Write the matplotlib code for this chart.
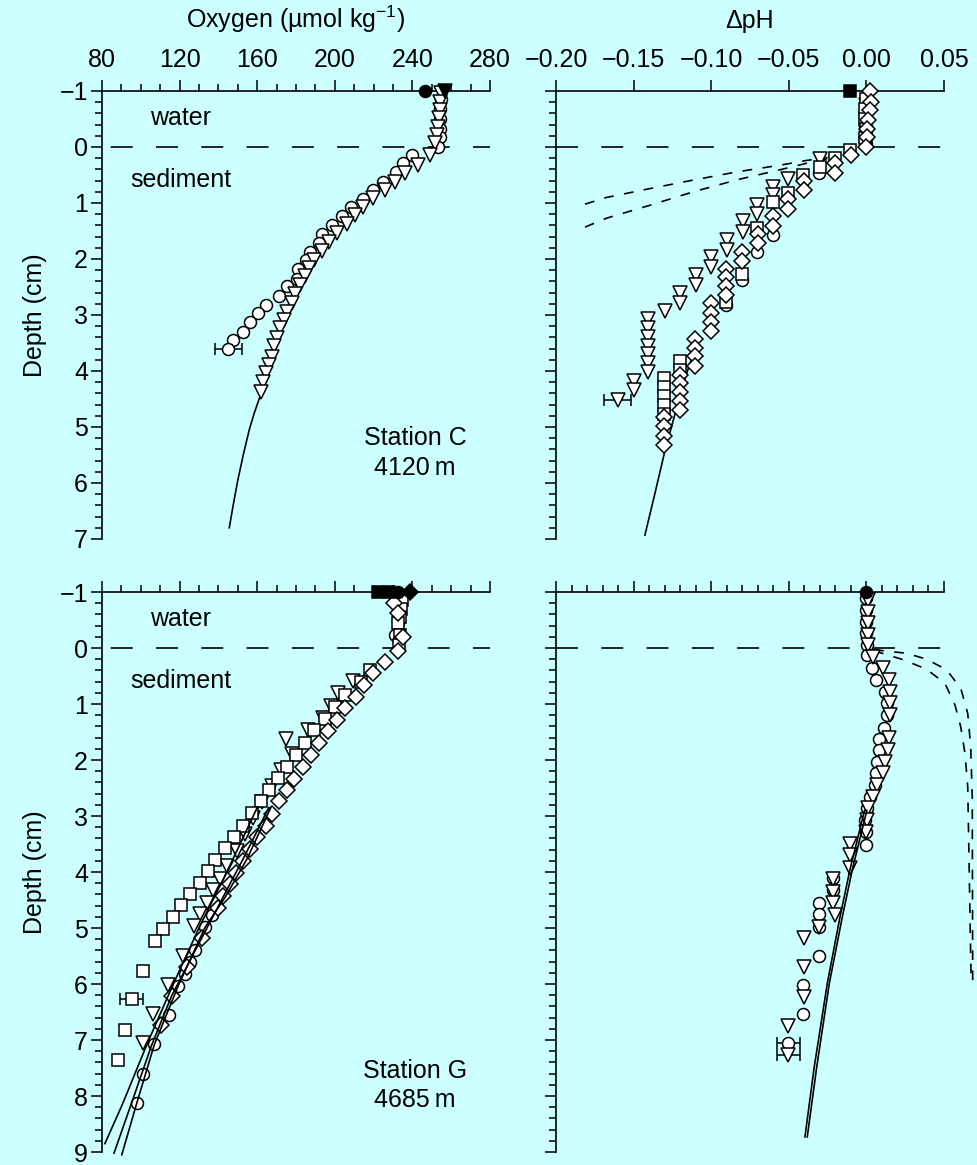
import numpy as np
import matplotlib
matplotlib.use("Agg")
matplotlib.rcParams.update({
    'font.family': ['Liberation Sans', 'DejaVu Sans'],
    'font.size': 18,
    'mathtext.default': 'regular',
    'lines.scale_dashes': False,
})
from matplotlib import pyplot as plt
from matplotlib.ticker import MultipleLocator, FuncFormatter

BG = '#ccffff'

# ---------------- Station C, oxygen ----------------
co_filled_circ_o2 = [246.5]
co_filled_tri_o2 = [256.8]
co_circ_o2 = [254.5, 254.4, 254.3, 254.0, 254.2, 253.4, 239.6, 235.3, 231.8, 224.6, 219.5,
              214.6, 208.6, 203.5, 198.3, 193.5, 192.0, 187.2, 185.2, 181.2, 180.3, 175.2,
              171.4, 164.5, 160.6, 156.3, 152.5, 147.7, 145.1]
co_circ_d = [-0.85, -0.68, -0.5, -0.33, -0.18, 0.0, 0.14, 0.29, 0.44, 0.62, 0.77, 0.93, 1.08,
             1.24, 1.40, 1.55, 1.71, 1.87, 2.02, 2.18, 2.35, 2.49, 2.66, 2.82, 2.97, 3.12,
             3.30, 3.45, 3.61]
co_circ_err = 6.9   # on deepest circle
co_tri_o2 = [254.5, 254.2, 254.0, 253.7, 253.3, 252.5, 251.6, 249.1, 243.1, 236.2, 231.1,
             225.9, 219.9, 214.7, 210.5, 206.2, 201.1, 196.8, 193.4, 189.5, 186.5, 184.8,
             182.2, 179.6, 177.9, 175.4, 173.6, 171.9, 170.2, 168.5, 167.7, 165.9, 164.3,
             162.9, 161.8]
co_tri_d = [-0.96, -0.8, -0.66, -0.52, -0.36, -0.21, -0.07, 0.14, 0.32, 0.47, 0.62, 0.77,
            0.91, 1.07, 1.21, 1.38, 1.54, 1.70, 1.85, 2.02, 2.16, 2.31, 2.46, 2.63, 2.79,
            2.94, 3.09, 3.24, 3.41, 3.56, 3.75, 3.89, 4.04, 4.20, 4.37]
co_fit_o2 = [184.8, 177.9, 171.9, 167.7, 162.5, 158.5, 155.9, 152.8, 150.0, 147.6, 145.6]
co_fit_d = [2.31, 2.79, 3.24, 3.75, 4.35, 4.75, 5.05, 5.5, 5.95, 6.4, 6.8]

# ---------------- Station C, pH ----------------
cp_filled_sq_v = [-0.0106]
cp_dia_v = [0.002, 0.003, 0.0023, 0.0012, 0.0002, 0.0002, -0.0002, -0.0099, -0.0202, -0.0202,
            -0.0402, -0.0402, -0.0503, -0.0503, -0.06, -0.06, -0.07, -0.07, -0.0803, -0.0803,
            -0.0903, -0.0903, -0.0903, -0.0903, -0.1003, -0.1003, -0.1003, -0.1003, -0.1104,
            -0.1104, -0.1104, -0.1104, -0.1201, -0.1201, -0.1201, -0.1201, -0.1201, -0.1302,
            -0.1302, -0.1302, -0.1302]
cp_dia_d = [-1.0, -0.81, -0.66, -0.49, -0.33, -0.18, 0.0, 0.14, 0.29, 0.47, 0.61, 0.77, 0.93,
            1.10, 1.24, 1.41, 1.56, 1.72, 1.88, 2.03, 2.17, 2.33, 2.49, 2.65, 2.79, 2.96, 3.12,
            3.28, 3.42, 3.59, 3.74, 3.91, 4.07, 4.22, 4.38, 4.53, 4.70, 4.83, 4.99, 5.16, 5.32]
cp_sq_v = [0.0, -0.001, -0.001, 0.0, -0.001, -0.0106, -0.0202, -0.0299, -0.0406, -0.0503,
           -0.06, -0.0703, -0.0804, -0.0903, -0.1201, -0.1201, -0.1302, -0.1302, -0.1302,
           -0.1302, -0.1302]
cp_sq_d = [-0.85, -0.68, -0.5, -0.33, -0.16, 0.05, 0.20, 0.35, 0.50, 0.83, 0.98, 1.45, 2.26,
           2.76, 3.83, 3.98, 4.13, 4.29, 4.45, 4.61, 4.76]
cp_circ_v = [0.0, 0.0, 0.0, 0.0, -0.0303, -0.0604, -0.0703, -0.0803, -0.0903]
cp_circ_d = [-0.8, -0.55, -0.3, -0.05, 0.47, 1.57, 1.87, 2.38, 2.82]
cp_tri_v = [0.0, 0.0, 0.0, 0.0, -0.0299, -0.0503, -0.06, -0.06, -0.0703, -0.0703, -0.0797,
            -0.0797, -0.09, -0.09, -0.1001, -0.1001, -0.11, -0.11, -0.1201, -0.1201, -0.13,
            -0.1405, -0.1405, -0.1405, -0.1405, -0.1405, -0.1405, -0.1405, -0.15, -0.15, -0.1603]
cp_tri_d = [-0.75, -0.5, -0.25, -0.02, 0.21, 0.58, 0.71, 0.86, 1.04, 1.20, 1.33, 1.51, 1.66,
            1.84, 1.97, 2.14, 2.29, 2.46, 2.60, 2.78, 2.92, 3.08, 3.24, 3.39, 3.55, 3.70, 3.86,
            4.02, 4.17, 4.34, 4.51]
cp_tri_err = 0.0088
cp_fit_v = [-0.1104, -0.1158, -0.1244, -0.1302, -0.1362, -0.1427]
cp_fit_d = [3.6, 4.04, 4.875, 5.47, 6.18, 6.93]
cp_dash1_v = [-0.1813, -0.1673, -0.139, -0.1115, -0.0825, -0.0546, -0.0385, -0.025]
cp_dash1_d = [1.02, 0.90, 0.74, 0.59, 0.44, 0.32, 0.24, 0.19]
cp_dash2_v = [-0.1813, -0.1673, -0.1394, -0.1115, -0.0825, -0.0546, -0.0385, -0.025]
cp_dash2_d = [1.43, 1.27, 1.04, 0.80, 0.58, 0.40, 0.29, 0.21]

# ---------------- Station G, oxygen ----------------
go_filled_sq_o2 = [222.5, 228.0]
go_filled_circ_o2 = [232.5]
go_filled_dia_o2 = [238.7]
go_dia_o2 = [230.5, 232.7, 235.3, 232.7, 225.9, 219.9, 215.1, 210.8, 205.3, 201.0, 196.7,
             192.0, 187.6, 183.8, 179.0, 175.2, 171.4, 167.5, 164.5, 160.1, 156.3, 152.5,
             149.1, 146.0, 142.4, 139.6, 131.4, 123.7, 115.9, 110.3]
go_dia_d = [-0.81, -0.62, -0.19, 0.05, 0.245, 0.45, 0.66, 0.87, 1.08, 1.29, 1.49, 1.70, 1.91,
            2.13, 2.34, 2.54, 2.74, 2.96, 3.17, 3.38, 3.59, 3.80, 4.01, 4.21, 4.42, 4.65, 5.18,
            5.69, 6.21, 6.73]
go_sq_o2 = [234.5, 234.3, 233.8, 232.7, 233.6, 233.0, 218.1, 213.3, 205.3, 200.1, 195.0,
            189.3, 184.6, 180.0, 175.2, 170.8, 166.2, 161.8, 157.4, 152.8, 148.2, 143.4,
            138.5, 134.8, 130.7, 125.4, 120.6, 116.8, 111.6, 107.3, 101.3, 95.3, 91.9, 88.4]
go_sq_d = [-0.85, -0.7, -0.56, -0.44, -0.23, -0.05, 0.39, 0.60, 0.84, 1.05, 1.26, 1.46, 1.70,
           1.91, 2.12, 2.33, 2.54, 2.74, 2.95, 3.17, 3.38, 3.58, 3.78, 3.99, 4.19, 4.40, 4.59,
           4.80, 5.01, 5.23, 5.76, 6.26, 6.83, 7.36]
go_sq_err_depth = 6.26
go_sq_err = 5.8
go_tri_o2 = [233.0, 233.2, 233.0, 232.0, 209.5, 201.8, 198.0, 194.1, 186.3, 174.8, 177.8,
             172.5, 167.5, 162.5, 157.7, 153.5, 149.4, 144.3, 140.8, 137.4, 134.0, 130.5,
             127.4, 121.9, 114.2, 106.4, 101.3]
go_tri_d = [-0.85, -0.6, -0.35, -0.1, 0.59, 0.80, 1.03, 1.25, 1.46, 1.63, 1.90, 2.18, 2.47,
            2.75, 3.03, 3.33, 3.63, 3.9, 4.13, 4.33, 4.55, 4.75, 4.96, 5.5, 6.02, 6.54, 7.05]
go_circ_o2 = [231.0, 136.5, 133.1, 127.9, 125.4, 122.8, 119.3, 114.7, 107.0, 101.3, 97.9]
go_circ_d = [-0.23, 4.77, 4.99, 5.39, 5.60, 5.82, 6.03, 6.55, 7.08, 7.61, 8.13]
go_fit1_o2 = [160.0, 150.5, 142.5, 130.5, 116.5, 103.5, 90.5, 81.5]
go_fit1_d = [2.85, 3.55, 4.13, 4.96, 6.02, 7.05, 8.15, 8.85]
go_fit2_o2 = [166.0, 153.0, 146.0, 131.4, 115.9, 105.5, 95.5, 86.2]
go_fit2_d = [2.85, 3.75, 4.21, 5.18, 6.21, 7.1, 8.1, 9.02]
go_fit3_o2 = [167.0, 155.0, 143.5, 133.1, 119.3, 107.0, 97.9, 90.2]
go_fit3_d = [2.85, 3.75, 4.45, 4.99, 6.03, 7.08, 8.13, 9.05]

# ---------------- Station G, pH ----------------
gp_filled_circ_v = [0.0]
gp_circ_v = [0.0, 0.0, 0.0, 0.0, 0.0005, 0.0002, 0.0034, 0.0062, 0.012, 0.0135, 0.013, 0.0115,
             0.0083, 0.0083, 0.007, 0.0062, 0.0055, 0.0023, 0.0006, -0.0009, -0.0005, -0.0003,
             -0.0213, -0.0213, -0.0303, -0.0303, -0.0303, -0.0303, -0.0406, -0.0406, -0.0503]
gp_circ_d = [-0.89, -0.68, -0.47, -0.26, -0.05, 0.125, 0.36, 0.57, 0.78, 0.99, 1.20, 1.42,
             1.62, 1.82, 2.03, 2.24, 2.45, 2.66, 2.86, 3.07, 3.28, 3.52, 4.11, 4.32, 4.55,
             4.75, 4.98, 5.5, 6.02, 6.54, 7.06]
gp_tri_v = [0.001, 0.001, 0.001, 0.001, 0.0012, 0.0044, 0.0109, 0.0147, 0.0152, 0.0152, 0.0152,
            0.0147, 0.0141, 0.012, 0.0105, 0.007, 0.0044, 0.0012, 0.0002, -0.0003, -0.0106,
            -0.0106, -0.0106, -0.0213, -0.0213, -0.0213, -0.0202, -0.0303, -0.04, -0.04, -0.04,
            -0.0503, -0.0503]
gp_tri_d = [-0.86, -0.65, -0.44, -0.24, -0.05, 0.155, 0.36, 0.57, 0.78, 0.99, 1.20, 1.61,
            1.82, 2.03, 2.24, 2.45, 2.66, 2.86, 3.07, 3.28, 3.50, 3.70, 3.92, 4.13, 4.35,
            4.56, 4.77, 4.98, 5.18, 5.70, 6.23, 6.75, 7.27]
gp_err = 0.0075
gp_fit1_v = [-0.0012, -0.0106, -0.017, -0.0252, -0.0336, -0.0396]
gp_fit2_v = [0.0003, -0.0091, -0.0155, -0.0239, -0.032, -0.0381]
gp_fit_d = [2.9, 3.96, 4.8, 5.99, 7.48, 8.73]
gp_dash1_v = [0.005, 0.026, 0.0388, 0.0517, 0.0608, 0.0653, 0.0672, 0.0682, 0.0685]
gp_dash1_d = [0.03, 0.095, 0.20, 0.39, 0.72, 1.17, 1.76, 2.66, 5.98]
gp_dash2_v = [0.005, 0.0238, 0.0388, 0.0506, 0.0571, 0.0608, 0.0635, 0.0653, 0.0675]
gp_dash2_d = [0.05, 0.21, 0.38, 0.63, 1.02, 1.41, 1.88, 2.48, 5.98]

W, H = 977.0, 1165.0
MS = {'o': 8.6, 'v': 10.0, 's': 8.4, 'D': 8.0}


def box(x0, y0, x1, y1):
    return [x0 / W, 1 - y1 / H, (x1 - x0) / W, (y1 - y0) / H]


def ph_fmt(v, pos):
    s = '%.2f' % v
    if s == '-0.00':
        s = '0.00'
    return s.replace('-', '\u2212')


def style(ax, xlim, ymax, xmajor, xminor, labels_x, labels_y, fmt=None):
    ax.set_facecolor(BG)
    ax.set_xlim(*xlim)
    ax.set_ylim(ymax, -1)
    for s in ['right', 'bottom']:
        ax.spines[s].set_visible(False)
    for s in ['top', 'left']:
        ax.spines[s].set_linewidth(1.2)
    ax.xaxis.tick_top()
    ax.xaxis.set_major_locator(MultipleLocator(xmajor))
    if xminor:
        ax.xaxis.set_minor_locator(MultipleLocator(xminor))
    if fmt:
        ax.xaxis.set_major_formatter(FuncFormatter(fmt))
    ax.yaxis.set_major_locator(MultipleLocator(1))
    ax.yaxis.set_minor_locator(MultipleLocator(0.2))
    ax.tick_params(which='major', direction='out', length=8, width=1.1)
    ax.tick_params(which='minor', direction='out', length=5, width=1.1)
    ax.tick_params(axis='x', which='major', pad=6)
    ax.tick_params(axis='y', which='major', pad=2)
    ax.tick_params(axis='x', labeltop=labels_x, labelbottom=False)
    ax.tick_params(axis='y', labelleft=labels_y)
    # sediment-water interface
    off = 26.3 if xlim[0] > 50 else 0.0
    ax.axhline(0, color='k', lw=1.2, ls=(off, (15.8, 16.8)), zorder=2)


def pts(ax, x, d, m, z, filled=False):
    ax.plot(x, d, ls='none', marker=m, ms=MS[m], mfc='k' if filled else 'white',
            mec='k', mew=1.1, clip_on=False, zorder=z)


def err(ax, x, d, e, z):
    ax.errorbar([x], [d], xerr=e, fmt='none', ecolor='k', elinewidth=1.1,
                capsize=4.3, capthick=1.1, zorder=z, clip_on=False)


def main():
    fig = plt.figure(figsize=(9.77, 11.65), dpi=100, facecolor=BG)
    ax_co = fig.add_axes(box(102, 91, 490, 539))
    ax_cp = fig.add_axes(box(556, 91, 944, 539))
    ax_go = fig.add_axes(box(102, 592, 490, 1152))
    ax_gp = fig.add_axes(box(556, 592, 944, 1152))

    style(ax_co, (80, 280), 7, 40, 10, True, True)
    style(ax_cp, (-0.20, 0.05), 7, 0.05, None, True, False, ph_fmt)
    style(ax_go, (80, 280), 9, 40, 10, False, True)
    style(ax_gp, (-0.20, 0.05), 9, 0.05, 0.01, False, False)

    # --- Station C oxygen
    ax = ax_co
    ax.plot(co_fit_o2, co_fit_d, color='k', lw=1.2, zorder=2.5)
    err(ax, co_circ_o2[-1], co_circ_d[-1], co_circ_err, 2.8)
    pts(ax, co_circ_o2, co_circ_d, 'o', 3)
    pts(ax, co_tri_o2, co_tri_d, 'v', 4)
    pts(ax, co_filled_circ_o2, [-1], 'o', 6, True)
    pts(ax, co_filled_tri_o2, [-1], 'v', 6, True)
    ax.text(120.5, -0.39, 'water', ha='center', va='baseline')
    ax.text(120.5, 0.714, 'sediment', ha='center', va='baseline')
    ax.text(241.3, 5.32, 'Station C', ha='center', va='baseline')
    ax.text(241.3, 5.86, '4120\u2009m', ha='center', va='baseline')

    # --- Station C pH
    ax = ax_cp
    ax.plot(cp_fit_v, cp_fit_d, color='k', lw=1.2, zorder=2.5)
    ax.plot(cp_dash1_v, cp_dash1_d, color='k', lw=1.2, ls=(0, (7, 7.5)), zorder=2.5)
    ax.plot(cp_dash2_v, cp_dash2_d, color='k', lw=1.2, ls=(0, (7, 7.5)), zorder=2.5)
    err(ax, cp_tri_v[-1], cp_tri_d[-1], cp_tri_err, 3.8)
    pts(ax, cp_circ_v, cp_circ_d, 'o', 3)
    pts(ax, cp_tri_v, cp_tri_d, 'v', 4)
    pts(ax, cp_sq_v, cp_sq_d, 's', 5)
    pts(ax, cp_dia_v, cp_dia_d, 'D', 6)
    pts(ax, cp_filled_sq_v, [-1], 's', 6, True)

    # --- Station G oxygen
    ax = ax_go
    for xs, ds in [(go_fit1_o2, go_fit1_d), (go_fit2_o2, go_fit2_d), (go_fit3_o2, go_fit3_d)]:
        ax.plot(xs, ds, color='k', lw=1.2, zorder=7, clip_on=False)
    i = go_sq_d.index(go_sq_err_depth)
    err(ax, go_sq_o2[i], go_sq_d[i], go_sq_err, 3.8)
    pts(ax, go_tri_o2, go_tri_d, 'v', 3)
    pts(ax, go_circ_o2, go_circ_d, 'o', 4)
    pts(ax, go_sq_o2, go_sq_d, 's', 5)
    pts(ax, go_dia_o2, go_dia_d, 'D', 6)
    pts(ax, go_filled_sq_o2, [-1, -1], 's', 6.5, True)
    pts(ax, go_filled_circ_o2, [-1], 'o', 6.5, True)
    pts(ax, go_filled_dia_o2, [-1], 'D', 6.5, True)
    ax.text(120.5, -0.39, 'water', ha='center', va='baseline')
    ax.text(120.5, 0.714, 'sediment', ha='center', va='baseline')
    ax.text(241.3, 7.68, 'Station G', ha='center', va='baseline')
    ax.text(241.3, 8.20, '4685\u2009m', ha='center', va='baseline')

    # --- Station G pH
    ax = ax_gp
    ax.plot(gp_dash1_v, gp_dash1_d, color='k', lw=1.2, ls=(0, (7, 7.5)), zorder=2.5, clip_on=False)
    ax.plot(gp_dash2_v, gp_dash2_d, color='k', lw=1.2, ls=(0, (7, 7.5)), zorder=2.5, clip_on=False)
    err(ax, gp_circ_v[-1], gp_circ_d[-1], gp_err, 2.8)
    err(ax, gp_tri_v[-1], gp_tri_d[-1], gp_err, 3.8)
    pts(ax, gp_circ_v, gp_circ_d, 'o', 3)
    pts(ax, gp_tri_v, gp_tri_d, 'v', 4)
    pts(ax, gp_filled_circ_v, [-1], 'o', 6, True)
    ax.plot(gp_fit1_v, gp_fit_d, color='k', lw=1.2, zorder=7)
    ax.plot(gp_fit2_v, gp_fit_d, color='k', lw=1.2, zorder=7)

    fig.text(296 / W, 1 - 28 / H, 'Oxygen (\u00b5mol kg$^{\u22121}$)', ha='center', va='baseline')
    fig.text(750 / W, 1 - 28 / H, '\u0394pH', ha='center', va='baseline')
    fig.text(35 / W, 1 - 315 / H, 'Depth (cm)', rotation=90, ha='center', va='center')
    fig.text(35 / W, 1 - 872 / H, 'Depth (cm)', rotation=90, ha='center', va='center')

    fig.savefig('out.png', dpi=100, facecolor=BG)


if __name__ == '__main__':
    main()
